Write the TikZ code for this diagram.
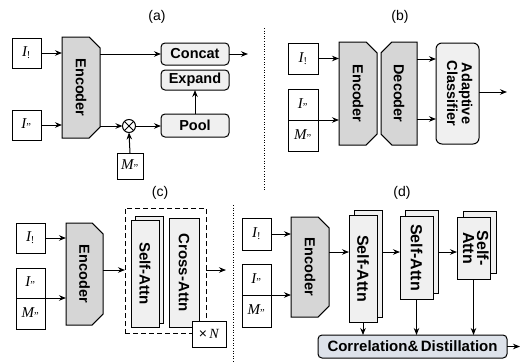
\documentclass[tikz,border=0pt]{standalone}
\usepackage{fontspec}
\setmainfont{Liberation Serif}
\setsansfont{Liberation Sans}
\usetikzlibrary{shapes.misc,arrows.meta,calc}
\definecolor{encgray}{HTML}{D6D6D6}
\definecolor{boxgray}{HTML}{F0F0F0}
\definecolor{cdblue}{HTML}{DDE2EA}
\newcommand{\vtext}[1]{\rotatebox{-90}{#1}}
\newcommand{\sbx}[1]{\textsubscript{\upshape #1}}
\begin{document}
\begin{tikzpicture}[x=1pt,y=-1pt,
  every node/.style={inner sep=0pt,outer sep=0pt},
  lw/.style={line width=1pt},
  inbox/.style={lw,draw,fill=white,minimum width=29pt,minimum height=30pt,font=\fontsize{15}{15}\selectfont\itshape},
  encR/.style={lw,draw,fill=encgray,chamfered rectangle,chamfered rectangle corners={north east,south east},chamfered rectangle xsep=5.5pt,chamfered rectangle ysep=5.5pt,font=\fontsize{14.5}{14.5}\selectfont\sffamily\bfseries},
  encL/.style={lw,draw,fill=encgray,chamfered rectangle,chamfered rectangle corners={north west,south west},chamfered rectangle xsep=5.5pt,chamfered rectangle ysep=5.5pt,font=\fontsize{14.5}{14.5}\selectfont\sffamily\bfseries},
  opbox/.style={lw,draw,fill=boxgray,rounded corners=4pt,font=\fontsize{14.5}{14.5}\selectfont\sffamily\bfseries},
  attn/.style={lw,draw,fill=boxgray,font=\fontsize{15}{15}\selectfont\sffamily\bfseries},
  arr/.style={lw,-{Stealth[length=7pt,width=5.5pt]}},
  ttl/.style={font=\fontsize{14}{14}\selectfont\sffamily},
  sep/.style={line width=0.6pt,dotted}
]
\useasboundingbox (0,0) rectangle (521,362);

% ---------------- (a)
\node[ttl] (ta) at (157,17) {(a)};
\node[inbox] (aI1) at (26.5,53) {I\sbx{!}};
\node[inbox] (aI2) at (26.5,125) {I\sbx{"}};
\node[encR,minimum width=38pt,minimum height=101pt] (aenc) at (81,87.5) {\vtext{Encoder}};
\node[opbox,minimum width=68pt,minimum height=22pt] (acat) at (195,54) {Concat};
\node[opbox,minimum width=68pt,minimum height=20pt] (aexp) at (195,80) {Expand};
\node[opbox,minimum width=68pt,minimum height=23pt] (apool) at (195,125.5) {Pool};
\node[lw,draw,circle,minimum size=13pt,fill=white] (aot) at (129,126) {};
\draw[lw] ($(aot.center)+(-4.6,-4.6)$) -- ($(aot.center)+(4.6,4.6)$);
\draw[lw] ($(aot.center)+(-4.6,4.6)$) -- ($(aot.center)+(4.6,-4.6)$);
\node[inbox,minimum width=26pt,minimum height=26pt] (aM) at (130,166) {M\sbx{"}};
\coordinate (aout) at (248,54);
\draw[arr] (aI1.east) -- (aI1.east -| aenc.west);
\draw[arr] (aI2.east) -- (aI2.east -| aenc.west);
\draw[arr] (aenc.east |- acat.west) -- (acat.west);
\draw[arr] (aenc.east |- aot.west) -- (aot.west);
\draw[arr] (aot.east) -- (aot.east -| apool.west);
\draw[arr] (aM.north) -- (aot.south);
\draw[arr] (apool.north) -- (aexp.south);
\draw[arr] (acat.east) -- (aout);

\draw[sep] (264,28) -- (264,190);

% ---------------- (b)
\node[ttl] (tb) at (400,17) {(b)};
\node[inbox,minimum width=30pt,minimum height=31pt] (bI1) at (303,58.5) {I\sbx{!}};
\node[inbox,minimum width=30pt,minimum height=31pt] (bI2) at (303,104.5) {I\sbx{"}};
\node[inbox,minimum width=30pt,minimum height=31pt] (bM) at (303,135.5) {M\sbx{"}};
\node[encR,minimum width=38pt,minimum height=103pt] (benc) at (358,93.5) {\vtext{Encoder}};
\node[encL,minimum width=36pt,minimum height=103pt] (bdec) at (399,93.5) {\vtext{Decoder}};
\node[opbox,rounded corners=6pt,minimum width=43pt,minimum height=101pt] (bcls) at (457.5,93.5) {\vtext{\begin{tabular}{@{}c@{}}Adaptive\\Classifier\end{tabular}}};
\coordinate (bout) at (507,92);
\draw[arr] (bI1.east) -- (bI1.east -| benc.west);
\draw[arr] (bI2.south east) -- (bI2.south east -| benc.west);
\draw[arr] (bdec.east |- 0,59) -- (bcls.west |- 0,59);
\draw[arr] (bdec.east |- 0,119) -- (bcls.west |- 0,119);
\draw[arr] (bcls.east |- bout) -- (bout);

% ---------------- (c)
\node[ttl] (tc) at (160,193) {(c)};
\node[inbox] (cI1) at (30.5,238) {I\sbx{!}};
\node[inbox] (cI2) at (30.5,283) {I\sbx{"}};
\node[inbox,minimum height=31pt] (cM) at (30.5,313.5) {M\sbx{"}};
\node[encR,minimum width=37pt,minimum height=102pt] (cenc) at (84.5,274) {\vtext{Encoder}};
\node[lw,draw,dashed,dash pattern=on 5pt off 3pt,minimum width=81pt,minimum height=125pt] (cdash) at (165.5,270.5) {};
\node[attn,minimum width=28pt,minimum height=107pt] (csab) at (149,269.5) {};
\node[attn,minimum width=28pt,minimum height=107pt] (csa) at (145,273.5) {\vtext{Self-Attn}};
\node[attn,minimum width=30pt,minimum height=109pt] (cca) at (184,272.5) {\vtext{Cross-Attn}};
\node[inbox,minimum width=34pt,minimum height=26pt,font=\fontsize{14}{14}\selectfont] (cN) at (209,334) {\textsf{×}\,\textit{N}};
\coordinate (cout) at (226,270);
\draw[arr] (cI1.east) -- (cI1.east -| cenc.west);
\draw[arr] (cI2.south east) -- (cI2.south east -| cenc.west);
\draw[arr] (cenc.east |- cout) -- (cdash.west |- cout);
\draw[arr] (cdash.east |- cout) -- (cout);

\draw[sep] (233,205) -- (233,362);

% ---------------- (d)
\node[ttl] (td) at (402,193) {(d)};
\node[inbox,minimum height=32pt] (dI1) at (256.5,234) {I\sbx{!}};
\node[inbox,minimum height=31pt] (dI2) at (256.5,279.5) {I\sbx{"}};
\node[inbox,minimum height=32pt] (dM) at (256.5,311) {M\sbx{"}};
\node[encR,minimum width=38pt,minimum height=100pt] (denc) at (310,267) {\vtext{Encoder}};
\node[attn,minimum width=28pt,minimum height=107pt] (dsa1b) at (368,263.5) {};
\node[attn,minimum width=28pt,minimum height=107pt,font=\fontsize{16}{16}\selectfont\sffamily\bfseries] (dsa1) at (363,268.5) {\vtext{Self-Attn}};
\node[attn,minimum width=33pt,minimum height=83pt] (dsa2b) at (421.5,251.5) {};
\node[attn,minimum width=33pt,minimum height=83pt,font=\fontsize{16}{16}\selectfont\sffamily\bfseries] (dsa2) at (416.5,257.5) {\vtext{Self-Attn}};
\node[attn,minimum width=33pt,minimum height=62pt] (dsa3b) at (479.5,242) {};
\node[attn,minimum width=33pt,minimum height=62pt,font=\fontsize{16}{16}\selectfont\sffamily\bfseries] (dsa3) at (473.5,248) {\vtext{\begin{tabular}{@{}c@{}}Self-\\[-2pt]Attn\end{tabular}}};
\node[opbox,fill=cdblue,minimum width=189pt,minimum height=23pt,font=\fontsize{15}{15}\selectfont\sffamily\bfseries] (dcd) at (412.5,346.5) {Correlation\&\,Distillation};
\coordinate (dout) at (520,346.5);
\draw[arr] (dI1.east) -- (dI1.east -| denc.west);
\draw[arr] (dI2.south east) -- (dI2.south east -| denc.west);
\draw[arr] (denc.east |- 0,252) -- (dsa1.west |- 0,252);
\draw[arr] (dsa1b.east |- 0,252) -- (dsa2.west |- 0,252);
\draw[arr] (dsa2b.east |- 0,252) -- (dsa3.west |- 0,252);
\draw[arr] (dsa1.south) -- (dsa1.south |- dcd.north);
\draw[arr] (dsa2.south) -- (dsa2.south |- dcd.north);
\draw[arr] (dsa3.south) -- (dsa3.south |- dcd.north);
\draw[arr] (dcd.east) -- (dout);
\end{tikzpicture}
\end{document}
